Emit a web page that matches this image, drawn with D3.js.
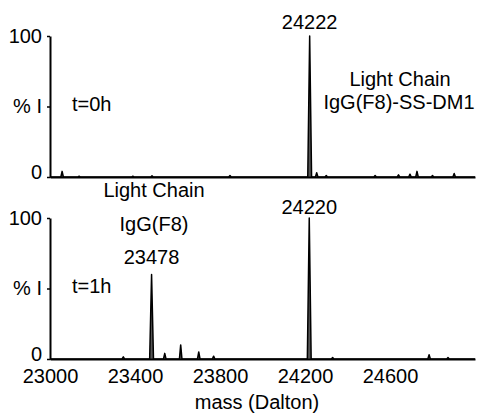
<!DOCTYPE html>
<meta charset="utf-8">
<script src="https://d3js.org/d3.v7.min.js"></script>
<style type="text/css">
    body { margin: 0; background: #fff; }
    text { font-family: "Liberation Sans", Arial, sans-serif; font-size: 20px; fill: #000; }
    .axis path { stroke: #000; stroke-width: 2px; }
    .axis line { stroke: #000; stroke-width: 1.5px; }
    .axis text { font-size: 20px; }
    .spectrum { fill: #555; stroke: #000; stroke-width: 1.5px; stroke-linejoin: round; }
</style>
<body>
<script>
    // peaks: mass (Da) and relative intensity (%)
    var topMass  = [23057, 23137, 23390, 23480, 23847, 24222, 24255, 24300, 24530, 24640, 24694, 24727, 24800, 24902];
    var topInt   = [4, 0.6, 0.6, 0.8, 1, 100, 3, 1, 1, 1.5, 2, 4, 1, 2.5];
    var botMass  = [23345, 23478, 23540, 23615, 23700, 23770, 24220, 24330, 24784, 24873];
    var botInt   = [1.5, 60, 4, 10, 5, 2, 100, 1, 3, 1];
    var xTicks   = [23000, 23400, 23800, 24200, 24600];
    var yTicks   = [0, 50, 100];

    var width = 479, height = 415;
    var xLeft = 50, xRight = 475;

    var svg = d3.select("body").append("svg")
        .attr("width", width)
        .attr("height", height);

    var x = d3.scaleLinear().domain([23000, 25000]).range([xLeft, xRight]);

    var panels = [
        {mass: topMass, inten: topInt, top: 36, bottom: 177, time: "t=0h"},
        {mass: botMass, inten: botInt, top: 218, bottom: 359, time: "t=1h"}
    ];

    var line = d3.line();

    panels.forEach(function(p, k) {
        var y = d3.scaleLinear().domain([0, 100]).range([p.bottom, p.top]);

        // spectrum as narrow spikes on a flat baseline
        var pts = [[x(23000), y(0)]];
        p.mass.forEach(function(m, i) {
            var w = p.inten[i] > 50 ? 9 : 6;
            pts.push([x(m - w), y(0)], [x(m), y(p.inten[i])], [x(m + w), y(0)]);
        });
        pts.push([x(25000), y(0)]);

        svg.append("path")
            .attr("class", "spectrum")
            .attr("d", line(pts));

        // y axis
        var ya = svg.append("g")
            .attr("class", "axis")
            .attr("transform", "translate(" + xLeft + ",0)")
            .call(d3.axisLeft(y).tickValues(yTicks).tickSize(3).tickSizeOuter(0).tickPadding(5)
                .tickFormat(function(d) { return d === 50 ? "% I" : d; }));
        ya.selectAll(".tick text")
            .filter(function(d) { return d === 0; })
            .attr("dy", "0.08em");

        // x axis (baseline)
        var xa = svg.append("g")
            .attr("class", "axis")
            .attr("transform", "translate(0," + p.bottom + ")")
            .call(d3.axisBottom(x).tickValues(xTicks).tickSize(0).tickSizeOuter(0).tickPadding(10)
                .tickFormat(d3.format("d")));
        if (k === 0) xa.selectAll(".tick text").remove();

        svg.append("text")
            .attr("x", 72)
            .attr("y", y(50) + 4)
            .text(p.time);
    });

    // peak labels
    svg.append("text").attr("x", x(24222)).attr("y", 29).attr("text-anchor", "middle").text("24222");
    svg.append("text").attr("x", x(24220)).attr("y", 214).attr("text-anchor", "middle").text("24220");
    svg.append("text").attr("x", x(23478)).attr("y", 264).attr("text-anchor", "middle").text("23478");

    // annotations
    svg.append("text").attr("x", 400).attr("y", 86).attr("text-anchor", "middle").text("Light Chain");
    svg.append("text").attr("x", 399).attr("y", 109).attr("text-anchor", "middle").text("IgG(F8)-SS-DM1");
    svg.append("text").attr("x", 154).attr("y", 197).attr("text-anchor", "middle").text("Light Chain");
    svg.append("text").attr("x", 154).attr("y", 231).attr("text-anchor", "middle").text("IgG(F8)");

    // x axis title
    svg.append("text")
        .attr("x", 257)
        .attr("y", 409)
        .attr("text-anchor", "middle")
        .text("mass (Dalton)");
</script>
</body>
